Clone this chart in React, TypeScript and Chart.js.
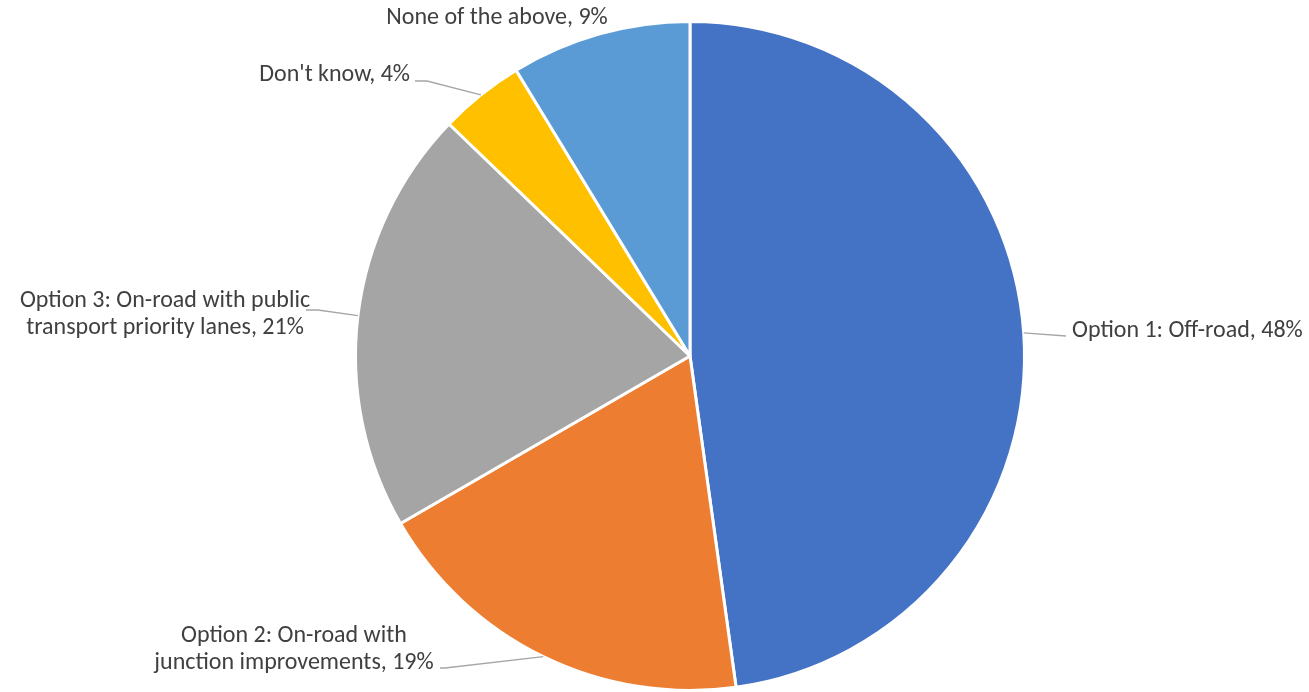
import { useEffect, useRef } from "react";
import { Chart, registerables } from "chart.js";

Chart.register(...registerables);

const categories = [
  "Option 1: Off-road",
  "Option 2: On-road with junction improvements",
  "Option 3: On-road with public transport priority lanes",
  "Don't know",
  "None of the above",
];
const shares = [47.8, 18.85, 20.55, 4.1, 8.7];
const sliceColors = ["#4472C4", "#ED7D31", "#A5A5A5", "#FFC000", "#5B9BD5"];

// Label layout (positions/styling only)
const labelLayout = [
  { x: 1072, y: 331, align: "left", breakAfter: 0, leader: [[1066, 336]] },
  { x: 294, y: 636, align: "center", breakAfter: 4, leader: [[445, 668], [440, 668]] },
  { x: 165, y: 301, align: "center", breakAfter: 5, leader: [[318, 310], [306, 310]] },
  { x: 410, y: 75, align: "right", breakAfter: 0, leader: [[427, 81], [415, 81]] },
  { x: 497, y: 18, align: "center", breakAfter: 0, leader: [] },
];

const FONT = "24px Carlito, Lato, 'Open Sans', sans-serif";
const LINE_H = 27;

const labelPlugin = {
  id: "pieLabels",
  afterDraw(chart: any) {
    const ctx = chart.ctx;
    const meta = chart.getDatasetMeta(0);
    const data = chart.data.datasets[0].data as number[];
    const total = data.reduce((a, b) => a + b, 0);
    ctx.save();
    meta.data.forEach((arc: any, i: number) => {
      const p = arc.getProps(["x", "y", "startAngle", "endAngle", "outerRadius"], true);
      const mid = (p.startAngle + p.endAngle) / 2;
      const ax = p.x + Math.cos(mid) * p.outerRadius;
      const ay = p.y + Math.sin(mid) * p.outerRadius;
      const lay = labelLayout[i];
      if (lay.leader.length) {
        ctx.beginPath();
        ctx.strokeStyle = "#A6A6A6";
        ctx.lineWidth = 1.3;
        ctx.moveTo(ax, ay);
        lay.leader.forEach((pt) => ctx.lineTo(pt[0], pt[1]));
        ctx.stroke();
      }
      const pct = Math.round((data[i] / total) * 100);
      const text = `${chart.data.labels[i]}, ${pct}%`;
      const words = text.split(" ");
      const lines =
        lay.breakAfter > 0
          ? [words.slice(0, lay.breakAfter).join(" "), words.slice(lay.breakAfter).join(" ")]
          : [text];
      ctx.font = FONT;
      ctx.fillStyle = "#404040";
      ctx.textBaseline = "middle";
      ctx.textAlign = lay.align;
      lines.forEach((ln, k) => ctx.fillText(ln, lay.x, lay.y + k * LINE_H));
    });
    ctx.restore();
  },
};

export default function App() {
  const ref = useRef<HTMLCanvasElement>(null);
  useEffect(() => {
    if (!ref.current) return;
    const chart = new Chart(ref.current, {
      type: "pie",
      data: {
        labels: categories,
        datasets: [
          {
            data: shares,
            backgroundColor: sliceColors,
            borderColor: "#FFFFFF",
            borderWidth: 3,
          },
        ],
      },
      options: {
        responsive: false,
        animation: false,
        layout: { padding: { left: 300, right: 229, top: 20, bottom: -4 } },
        plugins: {
          legend: { display: false },
          tooltip: { enabled: false },
        },
      },
      plugins: [labelPlugin],
    });
    return () => chart.destroy();
  }, []);
  return (
    <div style={{ position: "fixed", left: 0, top: 0, width: 1309, height: 692, background: "#fff" }}>
      <canvas ref={ref} width={1309} height={692} />
    </div>
  );
}
